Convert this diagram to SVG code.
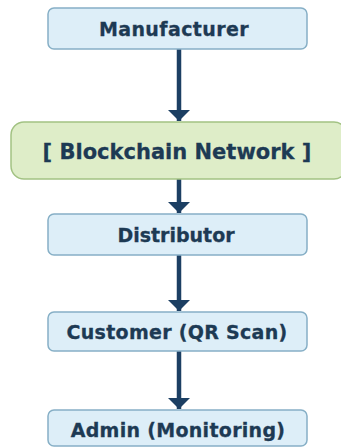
<svg xmlns="http://www.w3.org/2000/svg" width="341" height="447" viewBox="0 0 341 447">
<defs>
<style>
.box{fill:#ddeef8;stroke:#86afc6;stroke-width:1.5}
.gbox{fill:#deedc8;stroke:#a2c283;stroke-width:1.5}
.t{font-family:"DejaVu Sans",Verdana,sans-serif;font-weight:bold;fill:#1d3a54;stroke:#1d3a54;stroke-width:0.3;text-anchor:middle;dominant-baseline:central}
.c{stroke:#1c3f63;stroke-width:4.5;fill:none}
</style>
<marker id="ah" viewBox="0 0 11 22" refX="11" refY="11" markerWidth="11" markerHeight="22" markerUnits="userSpaceOnUse" orient="auto">
<path d="M0,0 L11,11 L0,22 Z" fill="#1c3f63"/>
</marker>
</defs>
<rect width="341" height="447" fill="#ffffff"/>
<g id="connectors">
<line class="c" x1="179" y1="49" x2="179" y2="121" marker-end="url(#ah)"/>
<line class="c" x1="179" y1="179" x2="179" y2="213" marker-end="url(#ah)"/>
<line class="c" x1="179" y1="255" x2="179" y2="311" marker-end="url(#ah)"/>
<line class="c" x1="179" y1="351" x2="179" y2="409" marker-end="url(#ah)"/>
</g>
<g id="manufacturer">
<rect class="box" x="48" y="8" width="259" height="41" rx="6"/>
<text class="t" x="174" y="29" font-size="19" letter-spacing="0.4">Manufacturer</text>
</g>
<g id="blockchain">
<rect class="gbox" x="11" y="122" width="336" height="57" rx="13"/>
<text class="t" x="177" y="152" font-size="21">[ Blockchain Network ]</text>
</g>
<g id="distributor">
<rect class="box" x="48" y="214" width="259" height="41" rx="6"/>
<text class="t" x="176" y="235" font-size="19">Distributor</text>
</g>
<g id="customer">
<rect class="box" x="48" y="312" width="259" height="39" rx="6"/>
<text class="t" x="177" y="332" font-size="19" letter-spacing="0.3">Customer (QR Scan)</text>
</g>
<g id="admin">
<rect class="box" x="48" y="410" width="259" height="36" rx="6"/>
<text class="t" x="178" y="430" font-size="19" letter-spacing="0.3">Admin (Monitoring)</text>
</g>
</svg>
